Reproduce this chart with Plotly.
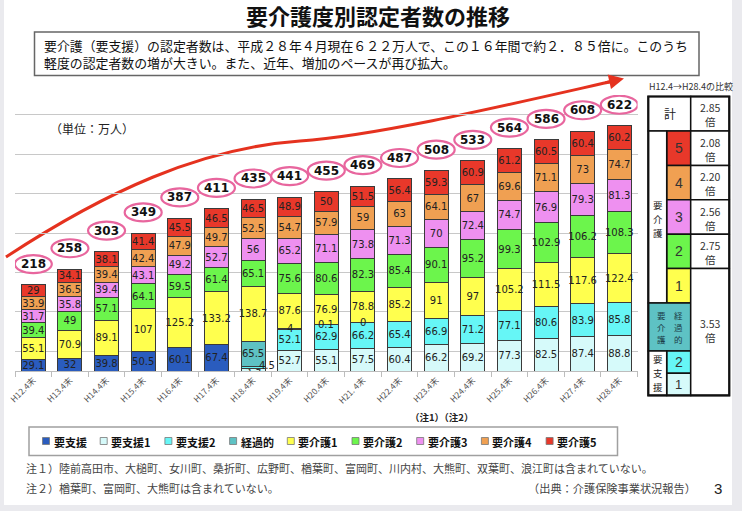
import plotly.graph_objects as go

W, H = 742, 511

# ---------------- data ----------------
categories = ["H12.4末", "H13.4末", "H14.4末", "H15.4末", "H16.4末", "H17.4末",
              "H18.4末", "H19.4末", "H20.4末", "H21. 4末", "H22.4末", "H23.4末",
              "H24.4末", "H25.4末", "H26.4末", "H27.4末", "H28.4末"]

series_names = ["要支援", "要支援1", "要支援2", "経過的", "要介護1", "要介護2",
                "要介護3", "要介護4", "要介護5"]

youshien = [29.1, 32, 39.8, 50.5, 60.1, 67.4] + [None] * 11
youshien1 = [None] * 6 + [5.9, 52.7, 55.1, 57.5, 60.4, 66.2, 69.2, 77.3, 82.5, 87.4, 88.8]
youshien2 = [None] * 6 + [4.5, 52.1, 62.9, 66.2, 65.4, 66.9, 71.2, 77.1, 80.6, 83.9, 85.8]
keikateki = [None] * 6 + [65.5, 4, 0.1, 0] + [None] * 7
kaigo1 = [55.1, 70.9, 89.1, 107, 125.2, 133.2, 138.7, 87.6, 76.9, 78.8, 85.2, 91, 97, 105.2, 111.5, 117.6, 122.4]
kaigo2 = [39.4, 49, 57.1, 64.1, 59.5, 61.4, 65.1, 75.6, 80.6, 82.3, 85.4, 90.1, 95.2, 99.3, 102.9, 106.2, 108.3]
kaigo3 = [31.7, 35.8, 39.4, 43.1, 49.2, 52.7, 56, 65.2, 71.1, 73.8, 71.3, 70, 72.4, 74.7, 76.9, 79.3, 81.3]
kaigo4 = [33.9, 36.5, 39.4, 42.4, 47.9, 49.7, 52.5, 54.7, 57.9, 59, 63, 64.1, 67, 69.6, 71.1, 73, 74.7]
kaigo5 = [29, 34.1, 38.1, 41.4, 45.5, 46.5, 46.5, 48.9, 50, 51.5, 56.4, 59.3, 60.9, 61.2, 60.5, 60.4, 60.2]
totals = [218, 258, 303, 349, 387, 411, 435, 441, 455, 469, 487, 508, 533, 564, 586, 608, 622]

series_values = [youshien, youshien1, youshien2, keikateki, kaigo1, kaigo2, kaigo3, kaigo4, kaigo5]
colors = ["#2A5CBE", "#D6FAFA", "#66F6F6", "#5EC2C4", "#FFFF4E", "#6CF54C",
          "#EE90F0", "#F0A052", "#E8382A"]

grid_values = [50, 150, 250, 350, 450, 550, 650]

# comparison table (H12.4 -> H28.4)
table_header = "H12.4→H28.4の比較"
total_ratio = "2.85"
care_levels = ["5", "4", "3", "2", "1"]
care_ratios = ["2.08", "2.20", "2.56", "2.75"]
light_ratio = "3.53"
support_levels = ["2", "1"]

title_text = "要介護度別認定者数の推移"
desc_line1 = "要介護（要支援）の認定者数は、平成２８年４月現在６２２万人で、この１６年間で約２．８５倍に。このうち"
desc_line2 = "軽度の認定者数の増が大きい。また、近年、増加のペースが再び拡大。"
unit_text = "（単位：万人）"
note_marks = "（注1）（注2）"
note1 = "注１）陸前高田市、大槌町、女川町、桑折町、広野町、楢葉町、富岡町、川内村、大熊町、双葉町、浪江町は含まれていない。"
note2 = "注２）楢葉町、富岡町、大熊町は含まれていない。"
source_text = "（出典：介護保険事業状況報告）"
page_no = "3"

JP = "Noto Sans CJK JP"
NUM = "DejaVu Sans"


def px(x):
    return x / W


def py(y):
    return 1 - y / H


fig = go.Figure()

SMALL = 5
for name, vals, col in zip(series_names, series_values, colors):
    txt = []
    for v in vals:
        if v is None or v < SMALL:
            txt.append("")
        else:
            txt.append(f"{v:g}")
    fig.add_trace(go.Bar(
        x=categories, y=vals, name=name,
        marker=dict(color=col, line=dict(color="#3a3a3a", width=1)),
        text=txt, textposition="inside", insidetextanchor="middle",
        constraintext="none", textangle=0,
        textfont=dict(family=NUM, size=10, color="#222"),
        showlegend=False, hoverinfo="skip",
    ))

annotations = []
shapes = []

# small-segment labels
for s_idx, vals in enumerate(series_values):
    base = [sum((series_values[k][i] or 0) for k in range(s_idx)) for i in range(len(categories))]
    for i, v in enumerate(vals):
        if v is not None and v < SMALL:
            xs, ys = 0, 0
            if s_idx == 1:
                xs, ys = -8, -2
            elif s_idx == 2:
                xs, ys = 14, 2
            annotations.append(dict(x=i, y=base[i] + v / 2, xref="x", yref="y",
                                    xanchor="center", yanchor="middle",
                                    text=f"{v:g}", showarrow=False, xshift=xs, yshift=ys,
                                    font=dict(family=NUM, size=10, color="#222")))

# total labels in pink ellipses
OFF = 21
for i, t in enumerate(totals):
    shapes.append(dict(type="circle", xref="x", yref="y", xsizemode="pixel", ysizemode="pixel",
                       xanchor=i, yanchor=t, x0=-18.5, x1=18.5, y0=OFF - 9, y1=OFF + 9,
                       line=dict(color="#E8669E", width=2.2), fillcolor="white", layer="above"))
    annotations.append(dict(x=i, y=t, xref="x", yref="y", yshift=OFF, showarrow=False,
                            xanchor="center", yanchor="middle",
                            text=f"<b>{t}</b>", font=dict(family=NUM, size=12, color="#111")))

# red growth curve (decorative)
def P(x, y):
    return f"{px(x):.5f},{py(y):.5f}"

curve = (f"M {P(6,257)} C {P(105,192)} {P(200,148)} {P(300,141)} "
         f"C {P(380,135.4)} {P(520,102)} {P(618,80)}")
shapes.append(dict(type="path", xref="paper", yref="paper", path=curve,
                   line=dict(color="#E5321F", width=3), layer="below"))
annotations.append(dict(x=px(624), y=py(78.5), xref="paper", yref="paper", ax=-20, ay=4.5,
                        text="", showarrow=True, arrowhead=2, arrowsize=1, arrowwidth=3,
                        arrowcolor="#E5321F"))


def label(x, y, text, size, color="#222", family=JP, xanchor="center", align="center"):
    annotations.append(dict(x=px(x), y=py(y), xref="paper", yref="paper", showarrow=False,
                            xanchor=xanchor, yanchor="middle", align=align,
                            text=text, font=dict(family=family, size=size, color=color)))


# ---------------- title & description ----------------
label(378, 15, f"<b>{title_text}</b>", 22, "#111")
shapes.append(dict(type="rect", xref="paper", yref="paper", x0=px(34.5), x1=px(699),
                   y0=py(75.5), y1=py(32), line=dict(color="#666", width=1.5)))
label(42, 54, f"{desc_line1}<br>{desc_line2}", 12.9, "#111", xanchor="left", align="left")

label(91.5, 128, unit_text, 12, "#222")
label(441.5, 416.5, f"<b>{note_marks}</b>", 9.5, "#222")

# ---------------- legend (manual) ----------------
shapes.append(dict(type="rect", xref="paper", yref="paper", x0=px(29), x1=px(617.5),
                   y0=py(455.5), y1=py(427), line=dict(color="#A0A0A0", width=1.5)))


def text_w(s, cjk=11, dig=7):
    return sum(dig if ch.isascii() else cjk for ch in s)


lx = 42.5
for name, col in zip(series_names, colors):
    shapes.append(dict(type="rect", xref="paper", yref="paper", x0=px(lx), x1=px(lx + 7),
                       y0=py(444.5), y1=py(437.5), fillcolor=col,
                       line=dict(color="#777", width=0.8)))
    label(lx + 9, 441.5, f"<b>{name}</b>", 11, "#111", xanchor="left")
    lx += 9 + text_w(name) + 15.7

# ---------------- footnotes ----------------
label(24, 468, note1, 11, "#444", xanchor="left")
label(24, 487.5, note2, 11, "#444", xanchor="left")
label(611.5, 487.5, source_text, 11.2, "#444")
label(718, 488, page_no, 15, "#222", family="Liberation Sans")

# ---------------- comparison table ----------------
XL, XM, XC, XR = 648.3, 666.7, 690.7, 729.3
row_top = 96.5
r_total = 34.5
r_care = 34.4
r_light = 48
r_sup = 22.2


def rect(x0, x1, y0, y1, fill="white", lw=1.5):
    shapes.append(dict(type="rect", xref="paper", yref="paper", x0=px(x0), x1=px(x1),
                       y0=py(y1), y1=py(y0), fillcolor=fill, line=dict(color="#111", width=lw)))


def vlabel(x, yc, chars, size, color="#222"):
    # vertical text: one character per annotation, spaced so the boxes do not collide
    step = size * 1.47
    n = len(chars)
    for k, ch in enumerate(chars):
        label(x, yc + (k - (n - 1) / 2) * step, ch, size, color)


label((XL + XR) / 2 + 2, 86.5, table_header, 9, "#333")

y = row_top
rect(XL, XC, y, y + r_total)
rect(XC, XR, y, y + r_total)
label((XL + XC) / 2, y + r_total / 2, "計", 12)
label((XC + XR) / 2, y + r_total / 2 + 1, f"{total_ratio}<br>倍", 10.5, "#333")
y += r_total

care_top = y
care_colors = colors[8:3:-1]
for k, (lvl, col) in enumerate(zip(care_levels, care_colors)):
    rect(XM, XC, y, y + r_care, fill=col)
    label((XM + XC) / 2, y + r_care / 2, lvl, 14, "#333", family="Liberation Sans")
    if k < len(care_ratios):
        rect(XC, XR, y, y + r_care)
        label((XC + XR) / 2, y + r_care / 2 + 1, f"{care_ratios[k]}<br>倍", 10.5, "#333")
    y += r_care
rect(XL, XM, care_top, y)
vlabel((XL + XM) / 2, 219, "要介護", 9.5)

light_top = y - r_care
rect(XL, XC, y, y + r_light, fill=colors[3])
vlabel(661.5, y + r_light / 2, "要介護", 8.5, "#1c3c48")
vlabel(678.5, y + r_light / 2, "経過的", 8.5, "#1c3c48")
y += r_light

sup_top = y
for lvl, col in zip(support_levels, [colors[2], colors[1]]):
    rect(XM, XC, y, y + r_sup, fill=col)
    label((XM + XC) / 2, y + r_sup / 2, lvl, 13 if lvl == "1" else 14, "#333", family="Liberation Sans")
    y += r_sup
rect(XL, XM, sup_top, y)
vlabel((XL + XM) / 2, (sup_top + y) / 2, "要支援", 9.5)
rect(XC, XR, light_top, y)
label((XC + XR) / 2, 330, f"{light_ratio}<br>倍", 10.5, "#333")
# outer border
shapes.append(dict(type="rect", xref="paper", yref="paper", x0=px(XL), x1=px(XR),
                   y0=py(y), y1=py(row_top), line=dict(color="#111", width=2.2)))

# slide edges
for x0, x1, y0, y1 in ((0, 4, 0, H), (732, W, 0, H), (0, W, 505, H)):
    shapes.append(dict(type="rect", xref="paper", yref="paper", x0=px(x0), x1=px(x1),
                       y0=py(y1), y1=py(y0), fillcolor="#EAEAEE", line=dict(width=0), layer="below"))

fig.update_layout(
    template="none",
    width=W, height=H, margin=dict(l=0, r=0, t=0, b=0, pad=0, autoexpand=False),
    paper_bgcolor="white", plot_bgcolor="white",
    barmode="stack", bargap=0.345, showlegend=False,
    xaxis=dict(domain=[px(15), px(637.6)], range=[-0.5, 16.5], type="category",
               automargin=False,
               tickangle=-45, tickfont=dict(family=JP, size=8.5, color="#555"),
               showline=True, linecolor="#BDBDBD", ticks="outside", tickson="boundaries",
               ticklen=5, tickcolor="#BDBDBD", showgrid=False),
    yaxis=dict(domain=[1 - 371 / H, 1 - 95 / H], range=[0, 700], tickvals=grid_values,
               automargin=False,
               showticklabels=False, gridcolor="#C8C8C8", gridwidth=1, zeroline=False,
               showline=False, ticks=""),
    shapes=shapes, annotations=annotations,
)

fig.write_html("out.html", config={"displayModeBar": False},
               post_script="document.body.style.margin='0px';")
